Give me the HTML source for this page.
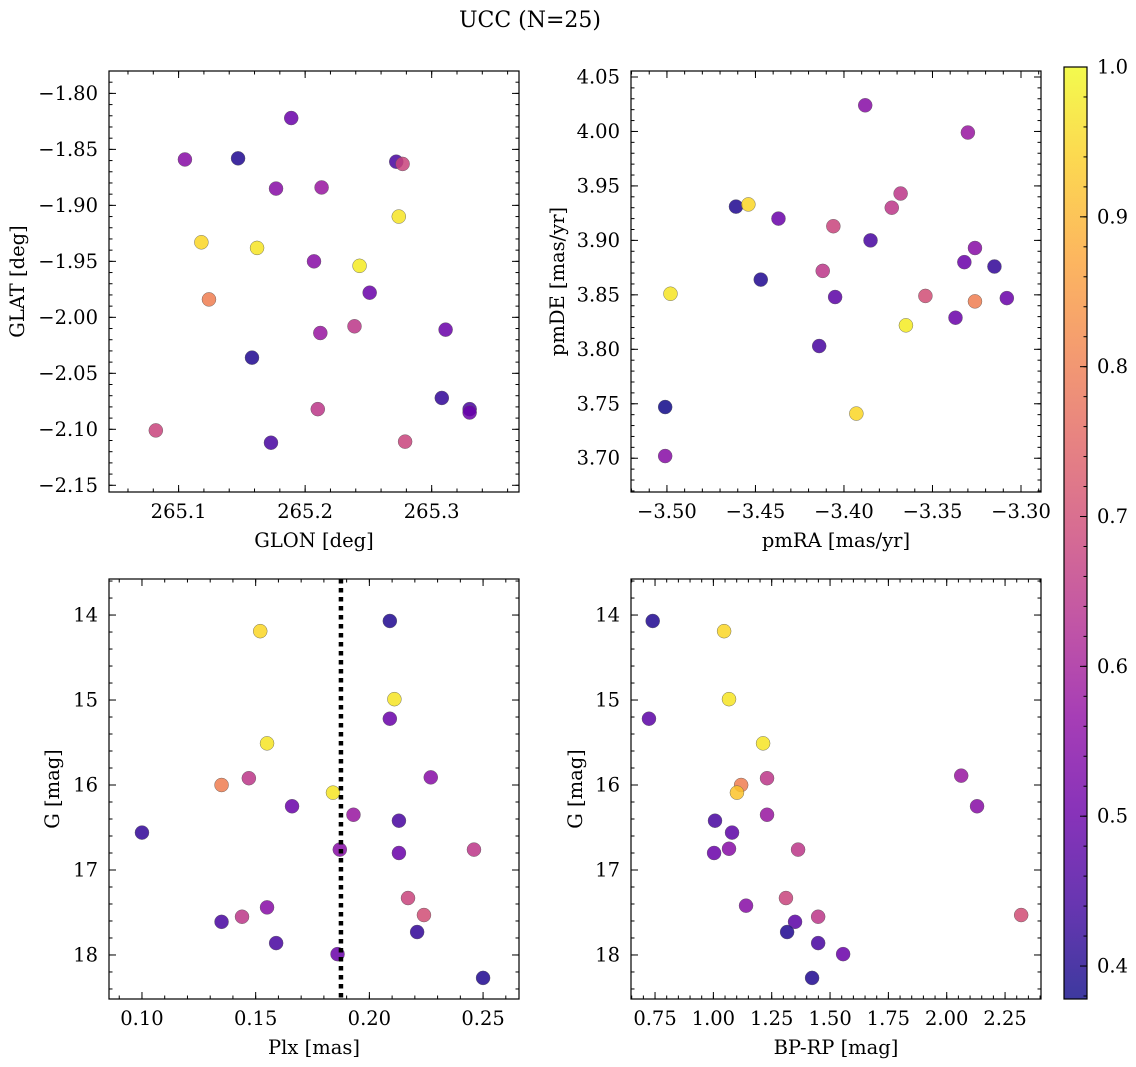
<!DOCTYPE html>
<html><head><meta charset="utf-8"><style>
body{margin:0;background:#fff;}
svg{display:block;font-family:"DejaVu Serif","Liberation Serif",serif;}
</style></head><body>
<svg id="fig" width="1136" height="1067" viewBox="0 0 1136 1067" xmlns="http://www.w3.org/2000/svg">
<defs>
<linearGradient id="plasma" x1="0" y1="1" x2="0" y2="0">
<stop offset="0" stop-color="#0d0887"/><stop offset="0.1" stop-color="#41049d"/><stop offset="0.2" stop-color="#6a00a8"/><stop offset="0.3" stop-color="#8f0da4"/><stop offset="0.4" stop-color="#b12a90"/><stop offset="0.5" stop-color="#cc4778"/><stop offset="0.6" stop-color="#e16462"/><stop offset="0.7" stop-color="#f2844b"/><stop offset="0.8" stop-color="#fca636"/><stop offset="0.9" stop-color="#fcce25"/><stop offset="1" stop-color="#f0f921"/>
</linearGradient>
</defs>
<text x="530" y="27" font-size="22" text-anchor="middle">UCC (N=25)</text>
</svg>
<script>
// Panel 1: GLON vs GLAT
const glonX=[265.105,265.147,265.189,265.177,265.213,265.272,265.277,265.274,265.118,265.162,265.207,265.243,265.251,265.124,265.239,265.212,265.311,265.158,265.308,265.330,265.330,265.210,265.082,265.173,265.279];
const glatY=[-1.859,-1.858,-1.822,-1.885,-1.884,-1.861,-1.863,-1.910,-1.933,-1.938,-1.950,-1.954,-1.978,-1.984,-2.008,-2.014,-2.011,-2.036,-2.072,-2.082,-2.085,-2.082,-2.101,-2.112,-2.111];
const p1C=[0.55,0.4,0.5,0.55,0.58,0.45,0.68,0.97,0.95,0.97,0.55,0.98,0.5,0.8,0.65,0.58,0.5,0.4,0.42,0.45,0.5,0.65,0.68,0.45,0.68];
// Panel 2: pmRA vs pmDE
const pmraX=[-3.388,-3.330,-3.461,-3.454,-3.437,-3.368,-3.373,-3.406,-3.385,-3.326,-3.332,-3.315,-3.412,-3.447,-3.498,-3.405,-3.354,-3.326,-3.308,-3.365,-3.337,-3.414,-3.501,-3.393,-3.501];
const pmdeY=[4.024,3.999,3.931,3.933,3.920,3.943,3.930,3.913,3.900,3.893,3.880,3.876,3.872,3.864,3.851,3.848,3.849,3.844,3.847,3.822,3.829,3.803,3.747,3.741,3.702];
const p2C=[0.55,0.58,0.4,0.95,0.5,0.65,0.65,0.68,0.45,0.55,0.5,0.42,0.65,0.4,0.97,0.48,0.7,0.8,0.5,0.98,0.5,0.45,0.38,0.95,0.55];
// Panel 3: Plx vs G
const plxX=[0.152,0.209,0.211,0.209,0.155,0.147,0.135,0.227,0.166,0.184,0.193,0.100,0.187,0.213,0.213,0.246,0.217,0.224,0.155,0.144,0.135,0.159,0.221,0.186,0.250];
const g3Y=[14.19,14.07,14.99,15.22,15.51,15.92,16.00,15.91,16.25,16.09,16.35,16.56,16.76,16.80,16.42,16.76,17.33,17.53,17.44,17.55,17.61,17.86,17.73,17.99,18.27];
const p3C=[0.95,0.4,0.97,0.5,0.97,0.65,0.8,0.55,0.5,0.97,0.58,0.42,0.55,0.5,0.45,0.65,0.68,0.7,0.55,0.65,0.45,0.45,0.42,0.5,0.4];
const plxLine=[0.1875];
// Panel 4: BP-RP vs G
const bprpX=[0.74,1.046,0.724,1.067,1.213,1.119,1.101,1.230,1.230,1.007,1.080,1.067,1.003,1.363,2.062,2.130,2.319,1.311,1.140,1.350,1.449,1.316,1.449,1.556,1.423];
const g4Y=[14.07,14.19,15.22,14.99,15.51,16.00,16.09,15.92,16.35,16.42,16.56,16.75,16.80,16.76,15.89,16.25,17.53,17.33,17.42,17.61,17.55,17.73,17.86,17.99,18.27];
const p4C=[0.4,0.95,0.48,0.97,0.97,0.8,0.92,0.65,0.58,0.45,0.48,0.55,0.5,0.65,0.58,0.55,0.7,0.68,0.55,0.48,0.65,0.4,0.45,0.5,0.4];
// Tick labels
const p1XT=[265.1,265.2,265.3];
const p1YT=[-1.80,-1.85,-1.90,-1.95,-2.00,-2.05,-2.10,-2.15];
const p2XT=[-3.50,-3.45,-3.40,-3.35,-3.30];
const p2YT=[3.70,3.75,3.80,3.85,3.90,3.95,4.00,4.05];
const p3XT=[0.10,0.15,0.20,0.25];
const gYT=[14,15,16,17,18];
const p4XT=[0.75,1.00,1.25,1.50,1.75,2.00,2.25];
const cbT=[0.4,0.5,0.6,0.7,0.8,0.9,1.0];

const NS='http://www.w3.org/2000/svg';
const svg=document.getElementById('fig');
const FS=19.5, TFS=19.5;
function mk(tag,attrs,parent){const e=document.createElementNS(NS,tag);for(const k in attrs)e.setAttribute(k,attrs[k]);(parent||svg).appendChild(e);return e;}
const stops=[[13,8,135],[65,4,157],[106,0,168],[143,13,164],[177,42,144],[204,71,120],[225,100,98],[242,132,75],[252,166,54],[252,206,37],[240,249,33]];
const CMIN=0.378,CMAX=1.0;
function plasma(v){let t=(v-CMIN)/(CMAX-CMIN);t=Math.max(0,Math.min(1,t))*10;const i=Math.min(9,Math.floor(t)),f=t-i;const a=stops[i],b=stops[i+1];return 'rgb('+a.map((c,k)=>Math.round(c+(b[k]-c)*f)).join(',')+')';}
function fmt(v,d){return (v<0?'\u2212':'')+Math.abs(v).toFixed(d);}

function panel(o){
  const g=mk('g',{});
  
  
  const L=o.box[0],T=o.box[1],R=o.box[2],B=o.box[3];
  const sx=v=>L+(v-o.xl[0])/(o.xl[1]-o.xl[0])*(R-L);
  const sy=v=>o.yinv? T+(v-o.yl[0])/(o.yl[1]-o.yl[0])*(B-T) : B-(v-o.yl[0])/(o.yl[1]-o.yl[0])*(B-T);
  const tk=(pos,len,axis)=>{
    if(axis==='x'){mk('line',{x1:pos,x2:pos,y1:B,y2:B-len,stroke:'#000','stroke-width':1},g);mk('line',{x1:pos,x2:pos,y1:T,y2:T+len,stroke:'#000','stroke-width':1},g);}
    else{mk('line',{y1:pos,y2:pos,x1:L,x2:L+len,stroke:'#000','stroke-width':1},g);mk('line',{y1:pos,y2:pos,x1:R,x2:R-len,stroke:'#000','stroke-width':1},g);}
  };
  const lo=Math.min(...o.xl),hi=Math.max(...o.xl);
  for(let v=Math.ceil(lo/o.xm-1e-9)*o.xm;v<=hi+1e-9;v+=o.xm)tk(sx(v),3.5,'x');
  const ylo=Math.min(...o.yl),yhi=Math.max(...o.yl);
  for(let v=Math.ceil(ylo/o.ym-1e-9)*o.ym;v<=yhi+1e-9;v+=o.ym)tk(sy(v),3.5,'y');
  o.xt.forEach(v=>{tk(sx(v),7,'x');const t=mk('text',{x:sx(v),y:B+26,'font-size':FS,'text-anchor':'middle'},g);t.textContent=fmt(v,o.xd);});
  o.yt.forEach(v=>{tk(sy(v),7,'y');const t=mk('text',{x:L-11,y:sy(v)+6.5,'font-size':FS,'text-anchor':'end'},g);t.textContent=fmt(v,o.yd);});
  o.x.forEach((xv,i)=>{const c=mk('circle',{cx:sx(xv),cy:sy(o.y[i]),r:7,fill:plasma(o.c[i]),'fill-opacity':0.85,stroke:'#555','stroke-width':0.4},g);});
  if(o.vline!==undefined){const ln=mk('line',{x1:sx(o.vline),x2:sx(o.vline),y1:T,y2:B,stroke:'#000','stroke-width':4.5,'stroke-dasharray':'4.5,4.5'},g);}
  const fr=mk('rect',{x:L,y:T,width:R-L,height:B-T,fill:'none',stroke:'#000','stroke-width':1.2},g);
  
  const xl=mk('text',{x:(L+R)/2,y:B+55,'font-size':TFS,'text-anchor':'middle'},g);xl.textContent=o.xlab;
  
  const yl=mk('text',{x:0,y:0,'font-size':TFS,'text-anchor':'middle',transform:'translate('+o.ylx+','+((T+B)/2)+') rotate(-90)'},g);yl.textContent=o.ylab;
  
}
panel({name:'glon-glat-panel',box:[109,71,519,492],xl:[265.045,265.369],yl:[-2.156,-1.780],xm:0.02,ym:0.01,xt:p1XT,yt:p1YT,xd:1,yd:2,x:glonX,y:glatY,c:p1C,xlab:'GLON [deg]',ylab:'GLAT [deg]',ylx:24});
panel({name:'pmra-pmde-panel',box:[631,71,1041,492],xl:[-3.5203,-3.2887],yl:[3.669,4.0555],xm:0.01,ym:0.01,xt:p2XT,yt:p2YT,xd:2,yd:2,x:pmraX,y:pmdeY,c:p2C,xlab:'pmRA [mas/yr]',ylab:'pmDE [mas/yr]',ylx:564});
panel({name:'plx-g-panel',box:[109,579,519,999],xl:[0.0855,0.2658],yl:[13.576,18.518],yinv:true,xm:0.01,ym:0.2,xt:p3XT,yt:gYT,xd:2,yd:0,x:plxX,y:g3Y,c:p3C,vline:plxLine[0],xlab:'Plx [mas]',ylab:'G [mag]',ylx:59});
panel({name:'bprp-g-panel',box:[631,579,1041,999],xl:[0.647,2.404],yl:[13.576,18.518],yinv:true,xm:0.05,ym:0.2,xt:p4XT,yt:gYT,xd:2,yd:0,x:bprpX,y:g4Y,c:p4C,xlab:'BP-RP [mag]',ylab:'G [mag]',ylx:582});
// colorbar
const cb=mk('g',{});


mk('rect',{x:1064,y:67,width:23,height:932,fill:'url(#plasma)','fill-opacity':0.8},cb);
mk('rect',{x:1064,y:67,width:23,height:932,fill:'none',stroke:'#000','stroke-width':1.2},cb);
const cy=v=>999-(v-CMIN)/(CMAX-CMIN)*932;
for(let v=0.38;v<=1.0001;v+=0.02){mk('line',{x1:1087,x2:1083.5,y1:cy(v),y2:cy(v),stroke:'#000','stroke-width':1},cb);}
cbT.forEach(v=>{mk('line',{x1:1087,x2:1080,y1:cy(v),y2:cy(v),stroke:'#000','stroke-width':1},cb);const t=mk('text',{x:1097,y:cy(v)+6.5,'font-size':FS},cb);t.textContent=v.toFixed(1);});
</script>
</body></html>
